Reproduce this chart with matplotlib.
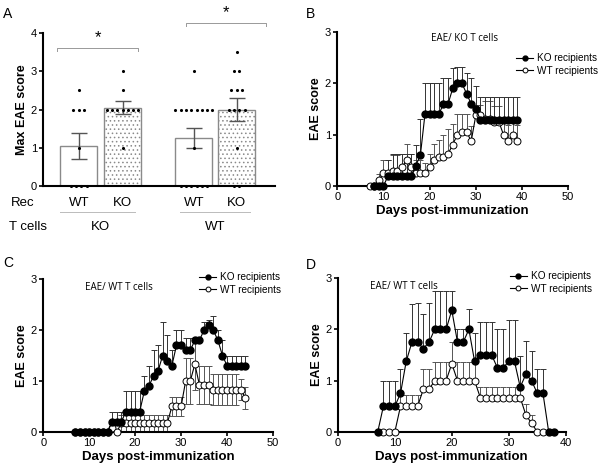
import numpy as np
import matplotlib
matplotlib.use("Agg")
import matplotlib.pyplot as plt

plt.rcParams['font.family'] = ['Liberation Sans', 'DejaVu Sans']
plt.rcParams['hatch.color'] = '#9a9a9a'
plt.rcParams['hatch.linewidth'] = 0.6

# ---- Panel A: max EAE score per mouse ----
groups = ['WT', 'KO', 'WT', 'KO']          # recipients
tcells = ['KO', 'WT']                       # transferred T cells
scores_a = [
    [0, 0, 0, 0, 1, 2, 2, 2, 2.5],
    [1, 2, 2, 2, 2, 2, 2, 2, 2.5, 3],
    [0, 0, 0, 0, 0, 0, 1, 2, 2, 2, 2, 2, 2, 2, 2, 3],
    [0, 0, 1, 2, 2, 2, 2, 2.5, 2.5, 2.5, 3, 3, 3.5],
]
bar_means = [1.05, 2.05, 1.25, 2.0]
bar_sem = [0.35, 0.17, 0.26, 0.31]

# ---- Panel B: EAE / KO T cells ----
days_b = np.arange(7, 40)
ko_b = [np.nan, 0, 0, 0, 0.2, 0.2, 0.2, 0.2, 0.2, 0.2, 0.4, 0.6, 1.4, 1.4, 1.4, 1.4,
        1.6, 1.6, 1.9, 2.0, 2.0, 1.8, 1.6, 1.5, 1.29, 1.29, 1.29, 1.29, 1.29, 1.29,
        1.29, 1.29, 1.29]
ko_b_err = [0, 0, 0, 0, 0.3, 0.42, 0.42, 0.42, 0.42, 0.42, 0.4, 0.7, 0.6, 0.6, 0.6, 0.6,
            0.5, 0.5, 0.4, 0.32, 0.32, 0.4, 0.5, 0.45, 0.45, 0.45, 0.45, 0.45, 0.45, 0.45,
            0.45, 0.45, 0.45]
wt_b = [0, 0, 0.125, 0.25, 0.25, 0.3, 0.3, 0.375, 0.5, 0.375, 0.25, 0.25, 0.25, 0.375,
        0.5, 0.56, 0.56, 0.625, 0.81, 1.0, 1.06, 1.06, 0.875, 1.375, 1.375, 1.3, 1.3,
        1.25, 1.25, 1.0, 0.875, 1.0, 0.875]
wt_b_err = [0, 0, 0.12, 0.25, 0.25, 0.3, 0.3, 0.25, 0.32, 0.25, 0.25, 0.25, 0.2, 0.25,
            0.32, 0.34, 0.44, 0.48, 0.4, 0.4, 0.34, 0.34, 0.3, 0.2, 0.2, 0.35, 0.35,
            0.3, 0.3, 0.3, 0.32, 0.3, 0.32]

# ---- Panel C: EAE / WT T cells ----
days_c = np.arange(7, 45)
ko_c = [0, 0, 0, 0, 0, 0, 0, 0, 0.2, 0.2, 0.2, 0.4, 0.4, 0.4, 0.4, 0.8, 0.9, 1.1, 1.2,
        1.5, 1.4, 1.3, 1.7, 1.7, 1.6, 1.6, 1.8, 1.8, 2.0, 2.1, 2.0, 1.8, 1.5, 1.3, 1.3,
        1.3, 1.3, 1.3]
ko_c_err = [0, 0, 0, 0, 0, 0, 0, 0, 0.2, 0.2, 0.2, 0.4, 0.4, 0.4, 0.4, 0.3, 0.4, 0.5, 0.5,
            0.65, 0.5, 0.3, 0.3, 0.3, 0.25, 0.25, 0.05, 0.05, 0.15, 0.1, 0.28, 0.2, 0.3,
            0.2, 0.2, 0.2, 0.2, 0.2]
wt_c = [0, 0, 0, 0, 0, 0, 0, 0, 0.08, 0, 0.17, 0.17, 0.17, 0.17, 0.17, 0.17, 0.17, 0.17,
        0.17, 0.17, 0.17, 0.5, 0.5, 0.5, 1.0, 1.0, 1.33, 0.92, 0.92, 0.92, 0.83, 0.83,
        0.83, 0.83, 0.83, 0.83, 0.83, 0.67]
wt_c_err = [0, 0, 0, 0, 0, 0, 0, 0, 0.08, 0, 0.17, 0.17, 0.17, 0.17, 0.17, 0.17, 0.17,
            0.17, 0.17, 0.17, 0.17, 0.18, 0.18, 0.18, 0.45, 0.45, 0.5, 0.38, 0.38, 0.38,
            0.3, 0.3, 0.3, 0.3, 0.3, 0.3, 0.2, 0.22]

# ---- Panel D: EAE / WT T cells ----
days_d = np.arange(7, 39)
ko_d = [0, 0.5, 0.5, 0.5, 0.75, 1.375, 1.75, 1.75, 1.625, 1.75, 2.0, 2.0, 2.0, 2.375,
        1.75, 1.75, 2.0, 1.375, 1.5, 1.5, 1.5, 1.25, 1.25, 1.375, 1.375, 0.875, 1.125,
        1.0, 0.75, 0.75, 0, 0]
ko_d_err = [0, 0.5, 0.5, 0.5, 0.48, 0.55, 0.75, 0.77, 0.68, 0.77, 0.75, 0.75, 0.75, 0.38,
            0.25, 0.25, 0.4, 0.55, 0.65, 0.65, 0.65, 0.75, 0.75, 0.8, 0.8, 0.6, 0.65,
            0.58, 0.48, 0.48, 0, 0]
wt_d = [np.nan, 0, 0, 0, 0.5, 0.5, 0.5, 0.5, 0.83, 0.83, 1.0, 1.0, 1.0, 1.33, 1.0, 1.0,
        1.0, 1.0, 0.67, 0.67, 0.67, 0.67, 0.67, 0.67, 0.67, 0.67, 0.33, 0.17, 0, 0,
        np.nan, np.nan]
wt_d_err = [0, 0, 0, 0, 0.22, 0.22, 0.22, 0.22, 0.4, 0.4, 0.37, 0.37, 0.37, 0.42, 0.37,
            0.37, 0.37, 0.37, 0.21, 0.21, 0.21, 0.21, 0.21, 0.21, 0.21, 0.21, 0.22, 0.16,
            0, 0, 0, 0]

fig = plt.figure(figsize=(6.0, 4.69), dpi=100)


def style_axes(ax):
    for s in ['top', 'right']:
        ax.spines[s].set_visible(False)
    for s in ['left', 'bottom']:
        ax.spines[s].set_linewidth(1.5)
    ax.tick_params(direction='out', width=1.2, length=3, labelsize=8, pad=1.5)


def time_course(ax, days, ko, ko_err, wt, wt_err, title, xmax, wt_both=False,
                title_xy=(0.5, 0.97), title_ha='center', leg_xy=(0.8, 0.9)):
    style_axes(ax)
    ko = np.array(ko, float)
    wt = np.array(wt, float)
    ax.errorbar(days, wt, yerr=[wt_err if wt_both else np.zeros(len(wt_err)), wt_err],
                fmt='none', ecolor='#555555', elinewidth=0.7, capsize=2.2, capthick=0.7,
                zorder=2)
    ax.errorbar(days, ko, yerr=[np.zeros(len(ko_err)), ko_err], fmt='none',
                ecolor='#333333', elinewidth=0.7, capsize=2.2, capthick=0.7, zorder=2)
    ax.plot(days, wt, '-o', color='black', lw=0.8, ms=5.0, mfc='white', mec='black',
            mew=0.7, label='WT recipients', zorder=3, clip_on=False)
    ax.plot(days, ko, '-o', color='black', lw=0.8, ms=5.0, mfc='black', mec='black',
            label='KO recipients', zorder=4, clip_on=False)
    ax.set_xlim(0, xmax)
    ax.set_ylim(0, 3)
    ax.set_xticks(np.arange(0, xmax + 1, 10))
    ax.set_yticks([0, 1, 2, 3])
    ax.set_xlabel('Days post-immunization', fontsize=9.5, fontweight='bold', labelpad=2)
    ax.set_ylabel('EAE score', fontsize=9, fontweight='bold', labelpad=2)
    ax.text(title_xy[0], title_xy[1], title, transform=ax.transAxes, ha=title_ha,
            va='top', fontsize=7, family=['Open Sans', 'DejaVu Sans'])
    h, l = ax.get_legend_handles_labels()
    ax.legend(h[::-1], l[::-1], loc='upper left', bbox_to_anchor=leg_xy, frameon=False,
              fontsize=7.2, handlelength=1.7, handletextpad=0.4, labelspacing=0.25,
              borderaxespad=0, borderpad=0, markerscale=0.7)


# ---- A ----
axA = fig.add_axes([0.072, 0.603, 0.386, 0.327])
style_axes(axA)
pos = np.array([0, 1, 2.625, 3.6])
for i in range(4):
    hatch = '....' if groups[i] == 'KO' else None
    axA.bar(pos[i], bar_means[i], width=0.84, color='white', edgecolor='#8a8a8a',
            linewidth=1.0, hatch=hatch, zorder=1)
    axA.errorbar(pos[i], bar_means[i], yerr=bar_sem[i], fmt='none', ecolor='#555555',
                 elinewidth=1.0, capsize=6, capthick=1.0, zorder=3)
    vals, counts = np.unique(scores_a[i], return_counts=True)
    for v, c in zip(vals, counts):
        xs = pos[i] + (np.arange(c) - (c - 1) / 2) * 0.12
        axA.scatter(xs, np.full(c, v), s=5, color='black', zorder=4, clip_on=False,
                    linewidths=0)
axA.set_xlim(-0.81, 4.47)
axA.set_ylim(0, 4)
axA.set_yticks([0, 1, 2, 3, 4])
axA.set_xticks([])
axA.set_ylabel('Max EAE score', fontsize=9, fontweight='bold', labelpad=2)
# significance brackets
for x0, x1, y in [(-0.49, 1.35, 3.6), (2.44, 4.28, 4.26)]:
    axA.plot([x0, x0, x1, x1], [y - 0.07, y, y, y - 0.07], color='#999999', lw=0.7,
             clip_on=False)
    axA.text((x0 + x1) / 2, y + 0.08, '*', ha='center', va='bottom', fontsize=12)
# group labels under the axis
axA.text(-1.28, -0.45, 'Rec', ha='center', va='center', fontsize=9.5, clip_on=False)
for i in range(4):
    axA.text(pos[i], -0.45, groups[i], ha='center', va='center', fontsize=9.5)
for x0, x1 in [(-0.42, 1.28), (2.3, 3.9)]:
    axA.plot([x0, x1], [-0.68, -0.68], color='#bbbbbb', lw=0.7, clip_on=False)
axA.text(-1.15, -1.07, 'T cells', ha='center', va='center', fontsize=9.5)
axA.text(0.5, -1.07, tcells[0], ha='center', va='center', fontsize=9.5)
axA.text(3.1, -1.07, tcells[1], ha='center', va='center', fontsize=9.5)

# ---- B ----
axB = fig.add_axes([0.562, 0.603, 0.385, 0.329])
time_course(axB, days_b, ko_b, ko_b_err, wt_b, wt_b_err, 'EAE/ KO T cells', 50,
            title_xy=(0.55, 0.99), leg_xy=(0.775, 0.86))

# ---- C ----
axC = fig.add_axes([0.072, 0.079, 0.383, 0.326])
time_course(axC, days_c, ko_c, ko_c_err, wt_c, wt_c_err, 'EAE/ WT T cells', 50,
            wt_both=True, title_xy=(0.33, 0.98), leg_xy=(0.68, 1.045))

# ---- D ----
axD = fig.add_axes([0.563, 0.079, 0.38, 0.328])
time_course(axD, days_d, ko_d, ko_d_err, wt_d, wt_d_err, 'EAE/ WT T cells', 40,
            title_xy=(0.14, 0.98), title_ha='left', leg_xy=(0.755, 1.045))

for lbl, x, y in [('A', 0.005, 0.985), ('B', 0.51, 0.985), ('C', 0.005, 0.455),
                  ('D', 0.51, 0.45)]:
    fig.text(x, y, lbl, fontsize=10, ha='left', va='top')

fig.savefig('out.png', dpi=100)
